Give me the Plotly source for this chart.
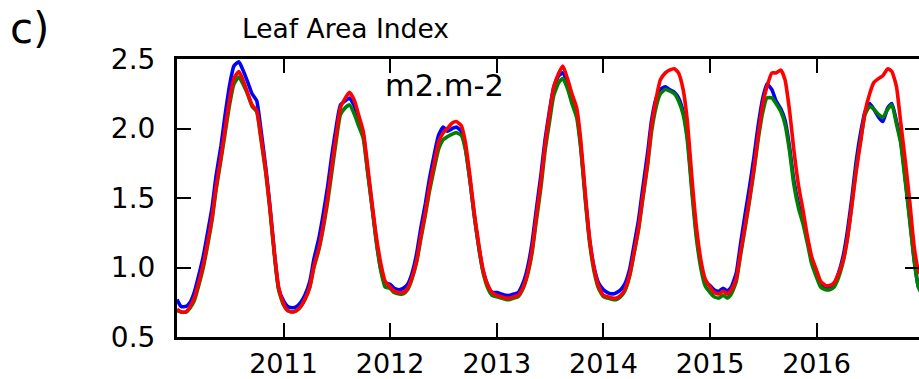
import pandas as pd
import plotly.graph_objects as go

# Semi-monthly sampling dates (1st and 16th of each month), 2010-01-01 .. 2017-01-01
dates = list(pd.date_range("2010-01-01", "2016-12-31", freq="SMS")) + [pd.Timestamp("2017-01-01")]

# Leaf Area Index (m2.m-2), one row per year (24 values) + final value at 2017-01-01
lai_blue = [
    0.77, 0.72, 0.72, 0.75, 0.82, 0.93, 1.08, 1.24, 1.43, 1.66, 1.88, 2.10, 2.32, 2.45, 2.48, 2.42, 2.33, 2.25, 2.20, 2.00, 1.72, 1.45, 1.10, 0.85,
    0.76, 0.72, 0.71, 0.72, 0.75, 0.80, 0.90, 1.06, 1.20, 1.36, 1.58, 1.80, 2.02, 2.17, 2.20, 2.22, 2.16, 2.06, 1.96, 1.72, 1.43, 1.19, 0.98, 0.89,
    0.88, 0.85, 0.84, 0.85, 0.88, 0.95, 1.10, 1.28, 1.46, 1.64, 1.82, 1.95, 2.01, 1.98, 2.00, 2.01, 1.98, 1.86, 1.62, 1.38, 1.13, 0.97, 0.87, 0.82,
    0.82, 0.81, 0.80, 0.80, 0.81, 0.82, 0.89, 0.99, 1.17, 1.40, 1.67, 1.92, 2.14, 2.30, 2.38, 2.40, 2.32, 2.22, 2.12, 1.88, 1.48, 1.19, 0.99, 0.89,
    0.84, 0.82, 0.81, 0.82, 0.84, 0.88, 0.99, 1.15, 1.34, 1.56, 1.82, 2.06, 2.22, 2.28, 2.30, 2.28, 2.26, 2.22, 2.12, 1.95, 1.55, 1.25, 1.02, 0.90,
    0.87, 0.84, 0.83, 0.85, 0.83, 0.86, 0.96, 1.16, 1.38, 1.56, 1.80, 2.02, 2.22, 2.32, 2.28, 2.20, 2.14, 2.06, 1.86, 1.63, 1.45, 1.35, 1.20, 1.06,
    0.95, 0.88, 0.86, 0.86, 0.88, 0.95, 1.08, 1.25, 1.50, 1.75, 1.98, 2.12, 2.18, 2.14, 2.08, 2.05, 2.15, 2.18, 2.05, 1.92, 1.62, 1.36, 1.05, 0.86,
    0.80,
]
lai_green = [
    0.69, 0.68, 0.68, 0.71, 0.76, 0.86, 1.00, 1.15, 1.34, 1.56, 1.78, 1.97, 2.18, 2.32, 2.37, 2.32, 2.24, 2.16, 2.12, 1.93, 1.68, 1.42, 1.08, 0.84,
    0.73, 0.69, 0.68, 0.69, 0.72, 0.77, 0.86, 1.00, 1.12, 1.26, 1.47, 1.68, 1.92, 2.10, 2.15, 2.17, 2.10, 2.02, 1.93, 1.70, 1.42, 1.18, 0.97, 0.86,
    0.85, 0.82, 0.81, 0.81, 0.84, 0.91, 1.04, 1.20, 1.38, 1.55, 1.72, 1.85, 1.92, 1.94, 1.96, 1.97, 1.95, 1.85, 1.62, 1.38, 1.13, 0.96, 0.85, 0.80,
    0.79, 0.78, 0.77, 0.77, 0.78, 0.79, 0.85, 0.94, 1.10, 1.32, 1.58, 1.84, 2.06, 2.24, 2.33, 2.36, 2.28, 2.18, 2.08, 1.86, 1.46, 1.17, 0.96, 0.85,
    0.79, 0.78, 0.77, 0.77, 0.79, 0.83, 0.94, 1.09, 1.27, 1.48, 1.73, 1.98, 2.16, 2.25, 2.28, 2.27, 2.25, 2.20, 2.10, 1.92, 1.52, 1.22, 0.99, 0.87,
    0.82, 0.79, 0.78, 0.80, 0.78, 0.81, 0.90, 1.08, 1.28, 1.46, 1.70, 1.92, 2.12, 2.22, 2.22, 2.18, 2.12, 2.03, 1.83, 1.60, 1.42, 1.32, 1.17, 1.03,
    0.93, 0.86, 0.84, 0.84, 0.86, 0.92, 1.04, 1.20, 1.45, 1.70, 1.93, 2.10, 2.16, 2.14, 2.10, 2.08, 2.14, 2.17, 2.03, 1.90, 1.60, 1.34, 1.04, 0.86,
    0.79,
]
lai_red = [
    0.70, 0.68, 0.68, 0.72, 0.78, 0.88, 1.02, 1.17, 1.36, 1.58, 1.80, 2.00, 2.22, 2.36, 2.41, 2.35, 2.25, 2.17, 2.13, 1.95, 1.70, 1.44, 1.10, 0.86,
    0.74, 0.69, 0.68, 0.69, 0.72, 0.77, 0.86, 1.01, 1.13, 1.28, 1.50, 1.72, 1.96, 2.15, 2.22, 2.26, 2.20, 2.10, 1.98, 1.75, 1.45, 1.22, 1.02, 0.90,
    0.86, 0.83, 0.82, 0.82, 0.85, 0.92, 1.05, 1.22, 1.40, 1.58, 1.76, 1.90, 1.97, 2.00, 2.04, 2.05, 2.02, 1.90, 1.65, 1.40, 1.15, 0.98, 0.87, 0.82,
    0.80, 0.79, 0.78, 0.78, 0.79, 0.80, 0.86, 0.95, 1.12, 1.35, 1.62, 1.88, 2.12, 2.30, 2.40, 2.45, 2.35, 2.25, 2.15, 1.92, 1.50, 1.20, 0.98, 0.87,
    0.80, 0.79, 0.78, 0.78, 0.80, 0.84, 0.95, 1.10, 1.28, 1.50, 1.75, 2.02, 2.22, 2.35, 2.40, 2.42, 2.43, 2.40, 2.28, 2.06, 1.62, 1.30, 1.05, 0.92,
    0.86, 0.82, 0.81, 0.83, 0.81, 0.84, 0.92, 1.10, 1.30, 1.48, 1.72, 1.95, 2.18, 2.30, 2.40, 2.40, 2.42, 2.35, 2.12, 1.85, 1.58, 1.42, 1.22, 1.08,
    0.98, 0.90, 0.87, 0.87, 0.89, 0.95, 1.05, 1.20, 1.45, 1.68, 1.92, 2.12, 2.25, 2.33, 2.36, 2.38, 2.43, 2.41, 2.30, 2.05, 1.75, 1.48, 1.14, 0.98,
    0.92,
]

year_ticks = ["2011", "2012", "2013", "2014", "2015", "2016"]
y_ticks = [0.5, 1.0, 1.5, 2.0, 2.5]

FONT = "DejaVu Sans"
W, H = 919, 379
ML, MR, MT, MB = 177, 0, 59, 42
PW, PH = W - ML - MR, H - MT - MB


def px(x):
    return (x - ML) / PW


def py(y):
    return (H - MB - y) / PH


fig = go.Figure()
for vals, col in [(lai_blue, "#0000ff"), (lai_green, "#008000"), (lai_red, "#ff0000")]:
    fig.add_trace(go.Scatter(x=dates, y=vals, mode="lines",
                             line=dict(color=col, width=3.6, shape="spline", smoothing=0.5),
                             showlegend=False))

fig.update_layout(
    width=W, height=H,
    margin=dict(l=ML, r=MR, t=MT, b=MB, autoexpand=False),
    paper_bgcolor="white", plot_bgcolor="white",
    font=dict(family=FONT, color="black"),
    xaxis=dict(
        type="date", range=["2010-01-01", "2016-12-17"], automargin=False,
        tickvals=[f"{y}-01-01" for y in year_ticks], ticktext=year_ticks,
        ticks="inside", ticklen=14, tickwidth=2, tickcolor="black",
        showline=True, linecolor="black", linewidth=3, mirror="ticks",
        showgrid=False, zeroline=False,
        tickfont=dict(family=FONT, size=27, color="black"),
        ticklabelstandoff=1,
    ),
    yaxis=dict(
        range=[0.5, 2.5], tickvals=y_ticks, ticktext=[f"{v:.1f}" for v in y_ticks],
        automargin=False,
        ticks="inside", ticklen=14, tickwidth=2, tickcolor="black",
        showline=True, linecolor="black", linewidth=3, mirror=False,
        showgrid=False, zeroline=False,
        tickfont=dict(family=FONT, size=28, color="black"),
        ticklabelstandoff=13,
    ),
    yaxis2=dict(
        overlaying="y", side="right", matches="y", range=[0.5, 2.5], automargin=False,
        tickvals=y_ticks, ticks="inside", ticklen=14, tickwidth=2, tickcolor="black",
        showticklabels=False, showline=False, showgrid=False, zeroline=False,
    ),
    annotations=[
        dict(text="c)", x=px(8), y=py(28), xref="paper", yref="paper",
             xanchor="left", yanchor="middle", showarrow=False,
             font=dict(family=FONT, size=42, color="black")),
        dict(text="Leaf Area Index", x=px(240), y=py(28), xref="paper", yref="paper",
             xanchor="left", yanchor="middle", showarrow=False,
             font=dict(family=FONT, size=26.5, color="black")),
        dict(text="m2.m-2", x=px(383), y=py(86), xref="paper", yref="paper",
             xanchor="left", yanchor="middle", showarrow=False,
             font=dict(family=FONT, size=30.5, color="black")),
    ],
)
fig.add_trace(go.Scatter(x=[dates[0]], y=[None], yaxis="y2", showlegend=False, hoverinfo="skip"))

fig.write_html(
    "out.html",
    config={"displayModeBar": False},
    post_script="document.body.style.margin='0';document.body.style.padding='0';"
                "document.documentElement.style.overflow='hidden';",
)
